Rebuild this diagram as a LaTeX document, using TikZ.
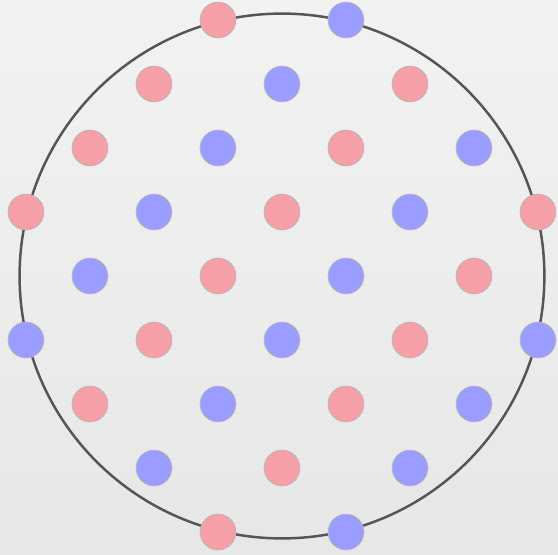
\documentclass[tikz,border=0pt]{standalone}
\definecolor{dotpink}{RGB}{244,160,166}
\definecolor{dotblue}{RGB}{154,156,255}
\definecolor{rimgray}{RGB}{85,85,85}
\definecolor{bgtop}{RGB}{242,242,242}
\definecolor{bgbottom}{RGB}{231,231,231}

\begin{document}
\begin{tikzpicture}[every node/.style={inner sep=0pt},
    dot/.style={circle, draw=gray!55, line width=0.35pt, minimum size=0.56cm}]
  % Background
  \shade[top color=bgtop, bottom color=bgbottom] (-4.406,-4.344) rectangle (4.3125,4.3125);
  \useasboundingbox (-4.406,-4.344) rectangle (4.3125,4.3125);
  % Rim
  \draw[rimgray, line width=1.1pt] (0,0) circle (4.1);
  % Dots on the lattice, inside the rim
  \foreach \r in {0,...,8} {
    \foreach \c in {0,...,8} {
      \pgfmathtruncatemacro\s{\c+\r}
      \pgfmathtruncatemacro\dd{(\c-4)*(\c-4)+(\r-4)*(\r-4)}
      \pgfmathtruncatemacro\k{mod(\c+\r,4)}
      \ifodd\s
        \ifnum\dd<18
          \ifnum\k=3
            \node[dot, fill=dotpink] (d-\r-\c) at (\c-4,4-\r) {};
          \else
            \node[dot, fill=dotblue] (d-\r-\c) at (\c-4,4-\r) {};
          \fi
        \fi
      \fi
    }
  }
\end{tikzpicture}
\end{document}
